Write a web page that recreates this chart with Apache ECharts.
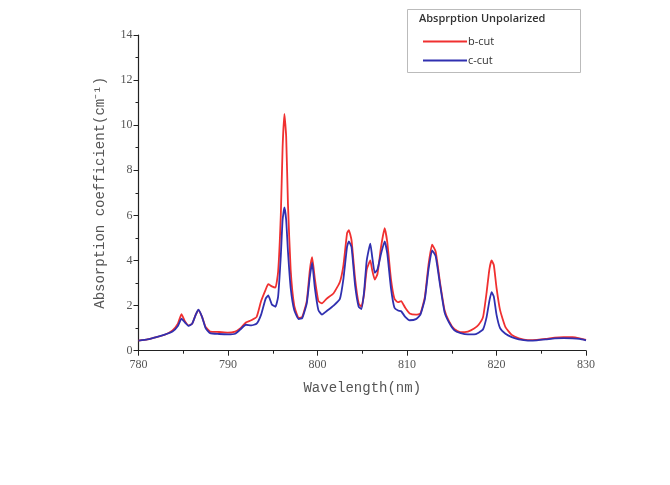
<!DOCTYPE html>
<html>
<head>
<meta charset="utf-8">
<script src="https://cdn.jsdelivr.net/npm/echarts@6/dist/echarts.min.js"></script>
<style>
  html, body { margin: 0; padding: 0; background: #fff; }
  #chart { width: 670px; height: 485px; }
</style>
</head>
<body>
<div id="chart"></div>
<script>
// wavelength (nm)
var wavelength = [
  780, 781, 782, 783, 783.8, 784.4, 784.8, 785.2, 785.6, 786.0,
  786.4, 786.7, 787.1, 787.5, 788.0, 789.0, 790.0, 790.8, 791.4, 792.0,
  792.6, 793.2, 793.7, 794.2, 794.5, 794.9, 795.3, 795.6, 795.9, 796.1,
  796.3, 796.5, 796.7, 797.0, 797.4, 797.9, 798.3, 798.8, 799.15, 799.4,
  799.7, 800.1, 800.5, 801.0, 801.8, 802.5, 802.9, 803.3, 803.5, 803.8,
  804.2, 804.6, 804.9, 805.2, 805.5, 805.9, 806.1, 806.4, 806.7, 807.1,
  807.5, 807.8, 808.2, 808.6, 809.0, 809.35, 809.8, 810.3, 811.0, 811.5,
  812.0, 812.4, 812.8, 813.2, 813.7, 814.2, 814.7, 815.3, 816.0, 816.8,
  817.5, 818.0, 818.5, 818.9, 819.2, 819.45, 819.7, 820.0, 820.4, 821.0,
  821.7, 822.5, 823.5, 824.5, 825.5, 826.5, 827.5, 828.5, 829.3, 830.0
];

// b-cut absorption coefficient (cm^-1)
var bCut = [
  0.45, 0.5, 0.6, 0.72, 0.9, 1.2, 1.62, 1.3, 1.12, 1.2,
  1.6, 1.8, 1.5, 1.05, 0.85, 0.83, 0.8, 0.85, 1.0, 1.25,
  1.35, 1.5, 2.2, 2.7, 2.95, 2.85, 2.8, 3.5, 6.0, 9.0,
  10.5, 9.5, 6.5, 3.6, 2.0, 1.45, 1.5, 2.2, 3.6, 4.15,
  3.2, 2.2, 2.1, 2.3, 2.55, 3.05, 3.8, 5.2, 5.35, 4.9,
  3.2, 2.1, 1.95, 2.5, 3.6, 4.0, 3.6, 3.15, 3.4, 4.6,
  5.43, 4.8, 3.2, 2.3, 2.15, 2.2, 1.9, 1.65, 1.6, 1.65,
  2.4, 3.8, 4.7, 4.4, 3.0, 1.8, 1.3, 0.95, 0.82, 0.85,
  0.98, 1.15, 1.5, 2.6, 3.6, 4.0, 3.8, 2.8, 1.8, 1.05,
  0.7, 0.55, 0.47, 0.48, 0.52, 0.58, 0.6, 0.6, 0.55, 0.48
];

// c-cut absorption coefficient (cm^-1)
var cCut = [
  0.45, 0.5, 0.6, 0.72, 0.85, 1.1, 1.42, 1.25, 1.1, 1.2,
  1.6, 1.82, 1.5, 1.0, 0.78, 0.74, 0.72, 0.75, 0.95, 1.15,
  1.12, 1.2, 1.6, 2.3, 2.45, 2.05, 1.95, 2.4, 4.2, 5.8,
  6.35, 5.8, 4.4, 2.8, 1.8, 1.4, 1.45, 2.1, 3.3, 3.9,
  2.8, 1.8, 1.6, 1.75, 2.0, 2.3, 3.2, 4.6, 4.85, 4.6,
  2.9, 1.95, 1.85, 2.6, 4.0, 4.75, 4.2, 3.45, 3.6, 4.3,
  4.85, 4.3, 2.8, 1.9, 1.78, 1.75, 1.5, 1.35, 1.4, 1.6,
  2.3, 3.6, 4.45, 4.2, 2.9, 1.7, 1.25, 0.9, 0.78, 0.72,
  0.72, 0.8, 0.95, 1.5, 2.2, 2.6, 2.4, 1.6, 1.0, 0.75,
  0.6, 0.5, 0.45, 0.46, 0.5, 0.55, 0.56, 0.55, 0.52, 0.46
];

var seriesNames = ['b-cut', 'c-cut'];
var legendTitle = 'Absprption Unpolarized';

function pairs(xs, ys) {
  return xs.map(function (x, i) { return [x, ys[i]]; });
}

var chart = echarts.init(document.getElementById('chart'));

var axisText = { fontFamily: 'Liberation Serif', fontSize: 12, color: '#555' };
var nameText = { fontFamily: 'Liberation Mono', fontSize: 14, color: '#555' };

chart.setOption({
  animation: false,
  backgroundColor: '#fff',
  grid: { left: 138.5, right: 84, top: 35, bottom: 134.3 },
  xAxis: {
    type: 'value',
    min: 780, max: 830, interval: 10,
    name: 'Wavelength(nm)',
    nameLocation: 'middle',
    nameGap: 31,
    nameTextStyle: nameText,
    axisLine: { lineStyle: { color: '#222', width: 1.2 } },
    axisTick: { length: 5, lineStyle: { color: '#222' } },
    minorTick: { show: true, splitNumber: 2, length: 3, lineStyle: { color: '#222' } },
    axisLabel: Object.assign({ margin: 8 }, axisText),
    splitLine: { show: false }
  },
  yAxis: {
    type: 'value',
    min: 0, max: 14, interval: 2,
    name: 'Absorption coefficient(cm⁻¹)',
    nameLocation: 'middle',
    nameGap: 31,
    nameTextStyle: nameText,
    axisLine: { show: true, lineStyle: { color: '#222', width: 1.2 } },
    axisTick: { show: true, length: 5, lineStyle: { color: '#222' } },
    minorTick: { show: true, splitNumber: 2, length: 3, lineStyle: { color: '#222' } },
    axisLabel: Object.assign({ margin: 6 }, axisText),
    splitLine: { show: false }
  },
  legend: {
    orient: 'vertical',
    left: 418, top: 31,
    icon: 'rect',
    itemWidth: 44, itemHeight: 2, itemGap: 8,
    textStyle: { fontFamily: 'Open Sans', fontSize: 11, color: '#333', padding: [0, 0, 0, -4] },
    data: seriesNames
  },
  graphic: [
    {
      type: 'rect', left: 405, top: 7, silent: true,
      shape: { width: 173, height: 63 },
      style: { fill: 'none', stroke: '#bbb', lineWidth: 1 }
    },
    {
      type: 'text', left: 419, top: 13, silent: true,
      style: { text: legendTitle, fontFamily: 'Open Sans', fontSize: 11, fontWeight: 600, fill: '#333' }
    }
  ],
  series: [
    {
      name: seriesNames[0], type: 'line', symbol: 'none', smooth: 0.15,
      lineStyle: { color: '#f03030', width: 1.8 }, itemStyle: { color: '#f03030' },
      data: pairs(wavelength, bCut)
    },
    {
      name: seriesNames[1], type: 'line', symbol: 'none', smooth: 0.15,
      lineStyle: { color: '#3030b0', width: 1.8 }, itemStyle: { color: '#3030b0' },
      data: pairs(wavelength, cCut)
    }
  ]
});
</script>
</body>
</html>
